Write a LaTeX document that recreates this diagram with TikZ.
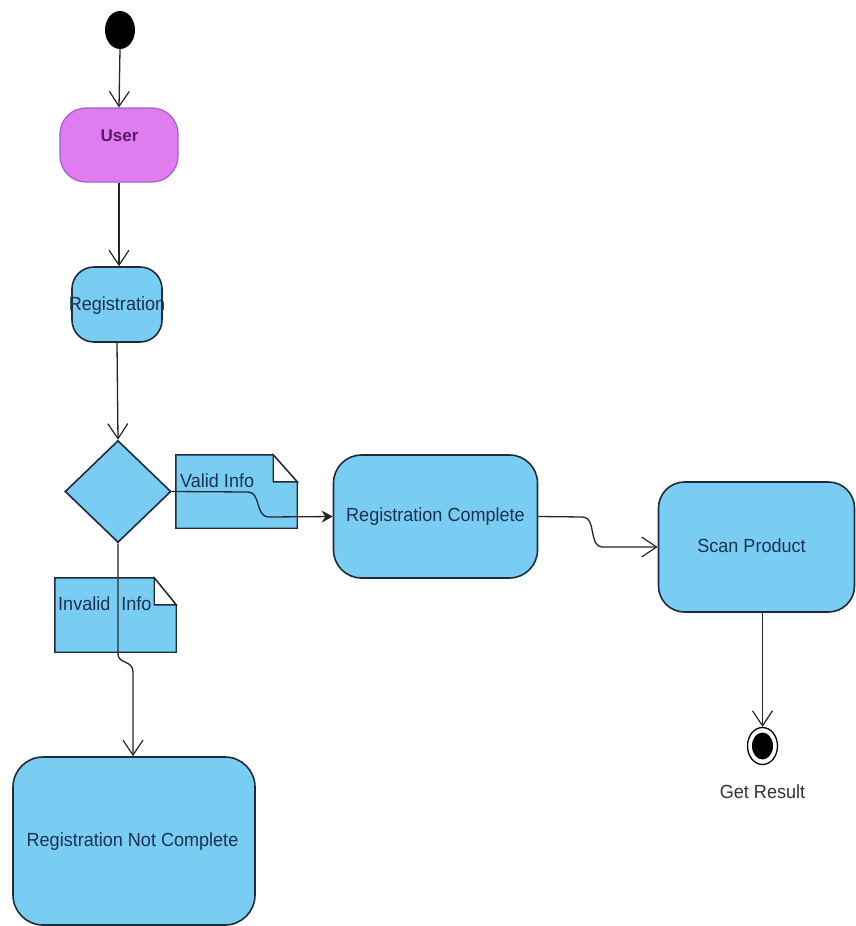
\documentclass[tikz,border=0pt]{standalone}
\usepackage{fontspec}
\setmainfont{Liberation Sans}
\newfontfamily\condfont[FakeStretch=0.95]{Liberation Sans}
\usetikzlibrary{shapes.geometric,arrows.meta,positioning}
\definecolor{boxblue}{HTML}{7ACDF2}
\definecolor{boxline}{HTML}{1F2B38}
\definecolor{userfill}{HTML}{DE7CF0}
\definecolor{userline}{HTML}{9B63CF}
\definecolor{usertext}{HTML}{5A1A66}
\definecolor{navytext}{HTML}{1C3150}
\begin{document}
\begin{tikzpicture}[x=1pt,y=-1pt,
  actbox/.style={draw=boxline,fill=boxblue,line width=1.6pt,rounded corners=#1,inner sep=0pt},
  actbox/.default=24pt,
  lbl/.style={font=\condfont\fontsize{19}{22}\selectfont,text=navytext,inner sep=0pt},
  conn/.style={line width=1.3pt,draw=black!85},
  openarr/.style={conn,-{Straight Barb[length=15pt,width=20pt,line width=1.2pt]}},
  fillarr/.style={conn,-{Stealth[length=11pt,width=12pt]}},
  notebox/.style={draw=none,inner sep=0pt,minimum width=#1},
  noteline/.style={draw=boxline,line width=1.4pt,line join=miter},
]
\useasboundingbox (0,0) rectangle (855,926);
\fill[white] (0,0) rectangle (855,926);

% start node
\node[ellipse,fill=black,minimum width=30pt,minimum height=38pt,inner sep=0pt] (start) at (120,30) {};

% User
\node[draw=userline,fill=userfill,line width=1.2pt,rounded corners=26pt,minimum width=118pt,minimum height=74pt] (user) at (119,145) {};
\node[font=\bfseries\fontsize{17}{20}\selectfont,text=usertext,inner sep=0pt] (usertxt) at (119.5,136) {User};

% Registration
\node[actbox=22pt,minimum width=90pt,minimum height=75pt] (reg) at (117,304.5) {};
\node[lbl] (regtxt) at (117,306) {Registration};

% decision
\node[diamond,draw=boxline,fill=boxblue,line width=1.6pt,minimum width=106pt,minimum height=102pt,inner sep=0pt] (dia) at (118,491.5) {};

% Valid Info note
\node[notebox=121pt,minimum height=73pt] (vnote) at (236.5,491.5) {};
\draw[noteline,fill=boxblue]
  (vnote.north west) -- ([xshift=-24pt]vnote.north east) -- ([yshift=-27pt]vnote.north east)
  -- (vnote.south east) -- (vnote.south west) -- cycle;
\draw[noteline,fill=white] ([xshift=-24pt]vnote.north east) -- ([xshift=-24pt,yshift=-27pt]vnote.north east) -- ([yshift=-27pt]vnote.north east) -- cycle;
\node[lbl,anchor=west] (vtxt) at (180,481) {Valid Info};

% Invalid Info note
\node[notebox=121pt,minimum height=74pt] (inote) at (115.5,615) {};
\draw[noteline,fill=boxblue]
  (inote.north west) -- ([xshift=-22pt]inote.north east) -- ([yshift=-27pt]inote.north east)
  -- (inote.south east) -- (inote.south west) -- cycle;
\draw[noteline,fill=white] ([xshift=-22pt]inote.north east) -- ([xshift=-22pt,yshift=-27pt]inote.north east) -- ([yshift=-27pt]inote.north east) -- cycle;
\node[lbl,anchor=west] (itxt) at (58,604) {Invalid\hspace{11pt}Info};

% Registration Complete
\node[actbox=28pt,minimum width=204pt,minimum height=123pt] (rc) at (435.5,516.5) {};
\node[lbl] (rctxt) at (435.5,517) {Registration Complete};

% Scan Product
\node[actbox=26pt,minimum width=196pt,minimum height=130pt] (sp) at (756.5,547) {};
\node[lbl] (sptxt) at (751.5,546) {Scan Product};

% Registration Not Complete
\node[actbox=30pt,minimum width=242pt,minimum height=168pt] (rnc) at (134,841) {};
\node[lbl] (rnctxt) at (132.5,842) {Registration Not Complete};

% final node
\node[ellipse,draw=black,line width=1.3pt,fill=white,minimum width=30pt,minimum height=37pt,inner sep=0pt] (fin) at (762.5,746) {};
\node[ellipse,fill=black,minimum width=21pt,minimum height=27pt,inner sep=0pt] (fininner) at (762.5,746) {};
\node[font=\condfont\fontsize{19}{22}\selectfont,text=black!80,inner sep=0pt] (gettxt) at (762.5,792) {Get Result};

% connectors
\draw[openarr] (start.south) -- (user.north);
\draw[openarr] (user.south) -- (reg.north -| user.south);
\draw[openarr] (reg.south) -- (dia.north);
\draw[fillarr] (dia.east) -- (248,492) .. controls (261,492) and (255,517) .. (269,517) -- (rc.west);
\draw[openarr] (rc.east) -- (583,517) .. controls (596,517) and (589,547) .. (602,547) -- (sp.west);
\draw[openarr] (sp.south -| fin.north) -- (fin.north);
\draw[openarr] (dia.south) -- (118,654) .. controls (118,664) and (133,660) .. (133,672) -- (rnc.north -| 133,0);
\end{tikzpicture}
\end{document}
